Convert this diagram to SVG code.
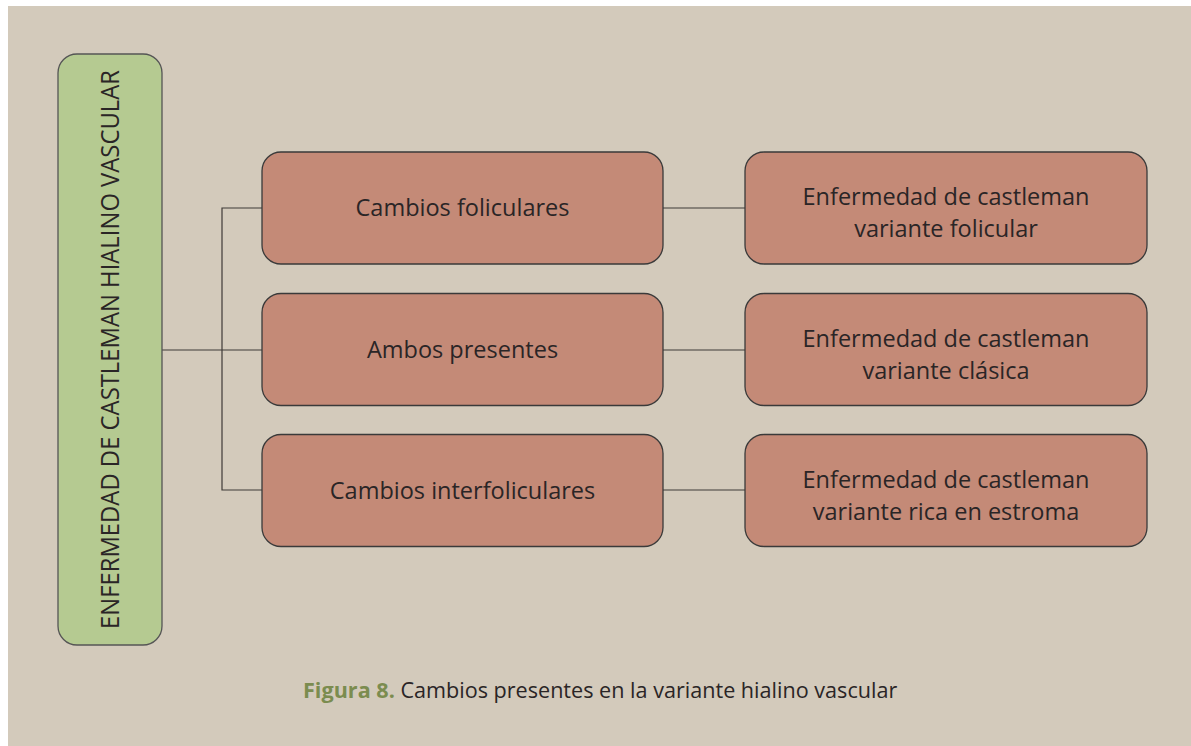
<svg xmlns="http://www.w3.org/2000/svg" width="1191" height="746" viewBox="0 0 1191 746">
<style>
.bg{fill:#d3cabb}
.root{fill:#b5ca91;stroke:#555;stroke-width:1.3}
.box{fill:#c48a77;stroke:#3a3a3a;stroke-width:1.3}
.t{font-family:"Open Sans","Noto Sans",sans-serif;fill:#2a2526;text-anchor:middle}
.mid{font-size:23.5px}
.rt{font-size:23.5px}
.conn{fill:none;stroke:#3f3a38;stroke-width:1.2}
.cap{font-family:"Open Sans","Noto Sans",sans-serif;font-size:21.6px;fill:#2a2526}
.capb{fill:#7b8c4f;font-weight:bold}
</style>
<rect x="0" y="0" width="1191" height="746" fill="#ffffff"/>
<rect class="bg" x="8" y="6" width="1183" height="740"/>
<g id="connectors">
<path class="conn" d="M162,350 H262"/>
<path class="conn" d="M262,208 H222 V490 H262"/>
<path class="conn" d="M663,208 H745"/>
<path class="conn" d="M663,350 H745"/>
<path class="conn" d="M663,490 H745"/>
</g>
<g id="n-root">
<rect class="root" x="58" y="54" width="104" height="591" rx="19"/>
<text class="t" transform="translate(119,349.5) rotate(-90)" font-size="25" x="0" y="0" textLength="559" lengthAdjust="spacingAndGlyphs">ENFERMEDAD DE CASTLEMAN HIALINO VASCULAR</text>
</g>
<g id="n-foliculares">
<rect class="box" x="262" y="152" width="401" height="112" rx="19"/>
<text class="t mid" x="462.5" y="216">Cambios foliculares</text>
</g>
<g id="n-ambos">
<rect class="box" x="262" y="293.5" width="401" height="112" rx="19"/>
<text class="t mid" x="462.5" y="357.5">Ambos presentes</text>
</g>
<g id="n-interfoliculares">
<rect class="box" x="262" y="434.5" width="401" height="112" rx="19"/>
<text class="t mid" x="462.5" y="498.5">Cambios interfoliculares</text>
</g>
<g id="n-var-folicular">
<rect class="box" x="745" y="152" width="402" height="112" rx="19"/>
<text class="t rt" x="946" y="205">Enfermedad de castleman</text>
<text class="t rt" x="946" y="237">variante folicular</text>
</g>
<g id="n-var-clasica">
<rect class="box" x="745" y="293.5" width="402" height="112" rx="19"/>
<text class="t rt" x="946" y="346.5">Enfermedad de castleman</text>
<text class="t rt" x="946" y="378.5">variante clásica</text>
</g>
<g id="n-var-estroma">
<rect class="box" x="745" y="434.5" width="402" height="112" rx="19"/>
<text class="t rt" x="946" y="487.5">Enfermedad de castleman</text>
<text class="t rt" x="946" y="519.5">variante rica en estroma</text>
</g>
<text class="cap" x="303" y="698"><tspan class="capb">Figura 8.</tspan> Cambios presentes en la variante hialino vascular</text>
</svg>
